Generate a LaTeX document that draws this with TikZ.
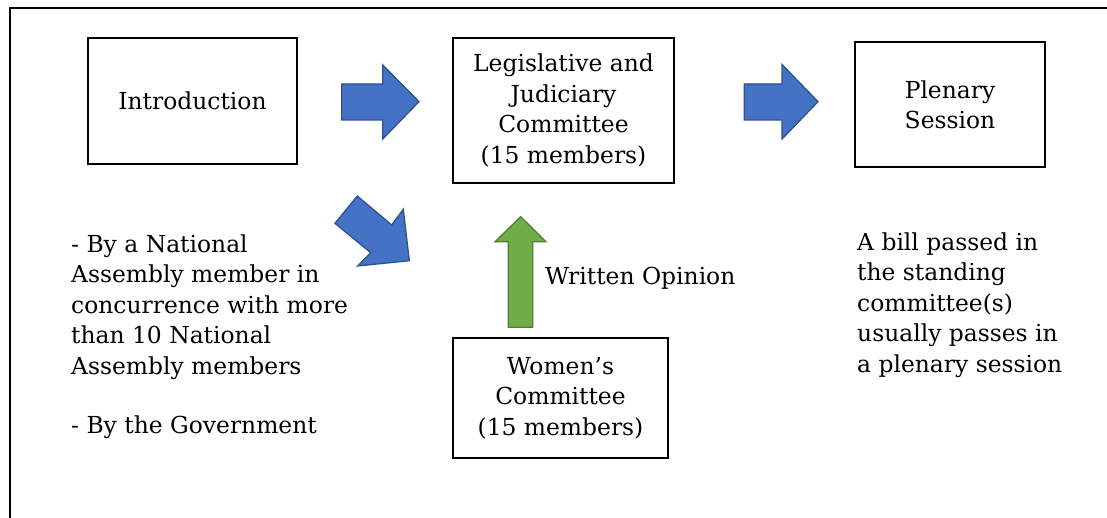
\documentclass[tikz,border=0pt]{standalone}
\usepackage{fontspec}
\setmainfont{DejaVu Serif}
\definecolor{arrblue}{HTML}{4472C4}
\definecolor{arrblueline}{HTML}{2F528F}
\definecolor{arrgreen}{HTML}{70AD47}
\definecolor{arrgreenline}{HTML}{507E32}
\begin{document}
\begin{tikzpicture}[x=1pt,y=-1pt,
  txt/.style={font=\fontsize{23.4}{30.4}\selectfont, inner sep=0pt},
  box/.style={txt, draw=black, line width=2.2pt, align=center, rectangle},
  freetext/.style={txt, align=left, anchor=north west},
  bluearrow/.style={fill=arrblue, draw=arrblueline, line width=1.3pt, line join=miter},
  greenarrow/.style={fill=arrgreen, draw=arrgreenline, line width=1.3pt, line join=miter}]
\useasboundingbox (0,0) rectangle (1107,518);
% outer frame (top and left edges only)
\draw[line width=2.4pt] (10,518) -- (10,8) -- (1107,8);
% boxes
\node[box, minimum width=209pt, minimum height=126pt] (intro) at (192.5,101) {Introduction};
\node[box, minimum width=221pt, minimum height=145pt] (ljc) at (563.5,110.5) {Legislative and\\Judiciary\\Committee\\(15 members)};
\node[box, minimum width=190pt, minimum height=125pt] (plen) at (950,104.5) {Plenary\\Session};
\node[box, minimum width=215pt, minimum height=120pt] (women) at (560.5,398) {Women’s\\Committee\\(15 members)};
% free texts
\node[freetext] (lefttext) at (71,234.5) {- By a National\\Assembly member in\\concurrence with more\\than 10 National\\Assembly members\\[28.6pt]- By the Government};
\node[freetext] (righttext) at (857,232.5) {A bill passed in\\the standing\\committee(s)\\usually passes in\\a plenary session};
\node[txt, anchor=base west] (opinion) at (545,284) {Written Opinion};
% block arrows
\draw[bluearrow] (341.7,84) -- (382.7,84) -- (382.7,65) -- (419,101.7) -- (382.7,139) -- (382.7,120) -- (341.7,120) -- cycle;
\draw[bluearrow] (744.3,84) -- (782,84) -- (782,64.5) -- (818,101.7) -- (782,139) -- (782,120) -- (744.3,120) -- cycle;
\draw[bluearrow] (335,223.3) -- (357.3,196) -- (391.7,225) -- (403.3,209.3) -- (409.3,260.7) -- (357.7,266) -- (370.7,252.7) -- cycle;
\draw[greenarrow] (508.3,327.3) -- (508.3,241.7) -- (495,241.7) -- (520.7,216.7) -- (546,241.7) -- (532.7,241.7) -- (532.7,327.3) -- cycle;
\end{tikzpicture}
\end{document}
